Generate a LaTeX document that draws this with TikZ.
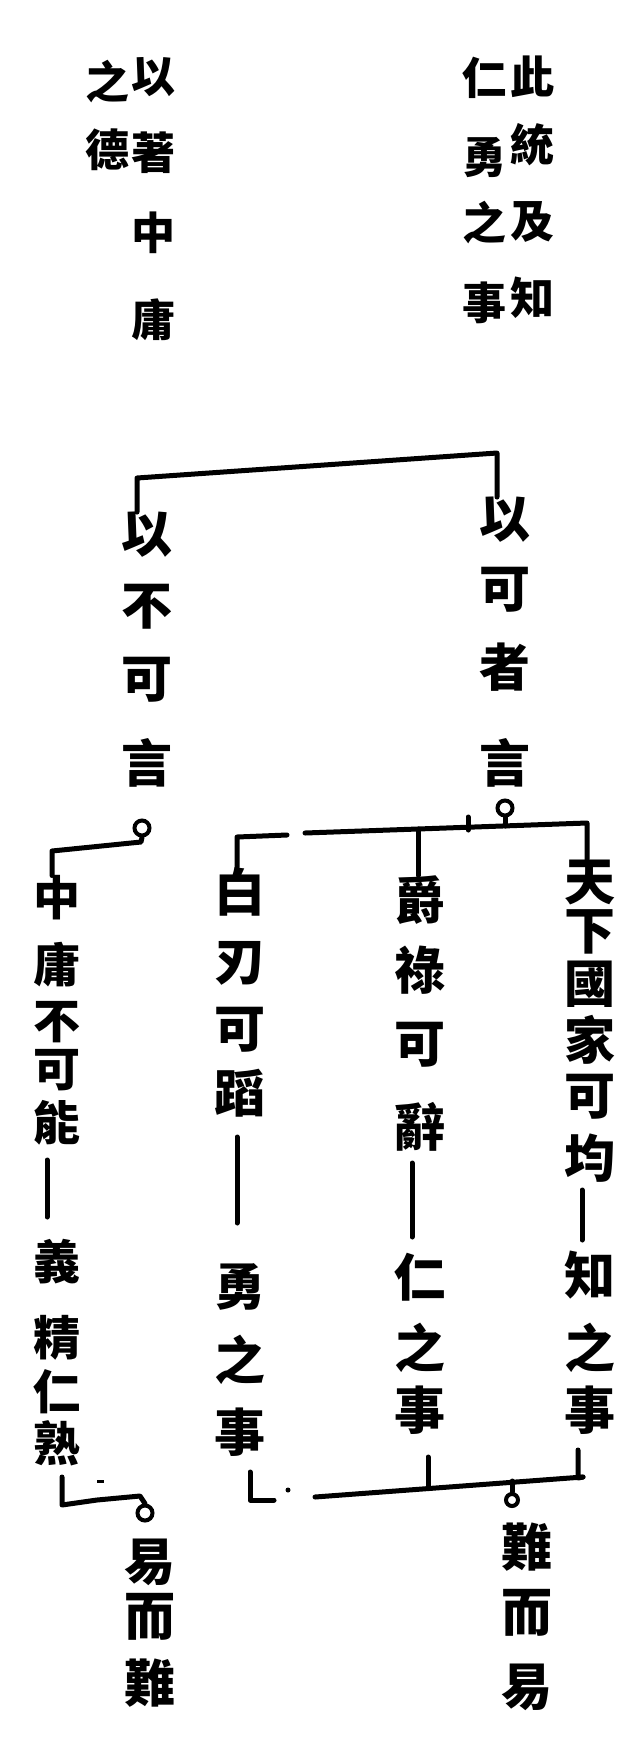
\documentclass[tikz,border=0pt]{standalone}
\usepackage{fontspec}
\newfontfamily\cjk{Noto Sans CJK TC}
\begin{document}
\begin{tikzpicture}[x=1pt,y=-1pt,
  tc/.style={font=\cjk\bfseries\fontsize{44}{44}\selectfont, inner sep=0pt},
  tr/.style={font=\cjk\bfseries\fontsize{51}{51}\selectfont, inner sep=0pt},
  tj/.style={font=\cjk\bfseries\fontsize{47}{47}\selectfont, inner sep=0pt},
  ln/.style={line width=5pt, line cap=round, line join=round},
  ring/.style={circle, draw, line width=4pt, minimum size=15pt, inner sep=0pt}]
\useasboundingbox (0,0) rectangle (636,1746);
% top texts
\foreach \n/\yy/\c in {a1/77/此, a2/145/統, a3/222/及, a4/298/知}
  \node[tc] (\n) at (532,\yy) {\c};
\foreach \n/\yy/\c in {b1/78/仁, b2/158/勇, b3/223/之, b4/303/事}
  \node[tc] (\n) at (484,\yy) {\c};
\foreach \n/\yy/\c in {c1/77/以, c2/153/著, c3/233/中, c4/320/庸}
  \node[tc] (\n) at (153,\yy) {\c};
\foreach \n/\yy/\c in {d1/82/之, d2/150/德}
  \node[tc] (\n) at (107,\yy) {\c};
% tree texts
\foreach \n/\yy/\c in {e1/535/以, e2/607/不, e3/680/可, e4/763/言}
  \node[tr] (\n) at (147,\yy) {\c};
\foreach \n/\yy/\c in {f1/520/以, f2/590/可, f3/667/者, f4/763/言}
  \node[tr] (\n) at (505,\yy) {\c};
\foreach \n/\yy/\c in {j1/898/中, j2/965/庸, j3/1022/不, j4/1070/可, j5/1123/能, j6/1262/義, j7/1338/精, j8/1392/仁, j9/1443/熟}
  \node[tj] (\n) at (57,\yy) {\c};
\foreach \n/\yy/\c in {g1/892/白, g2/963/刃, g3/1030/可, g4/1093/蹈, g5/1287/勇, g6/1360/之, g7/1432/事}
  \node[tr] (\n) at (240,\yy) {\c};
\foreach \n/\yy/\c in {h1/900/爵, h2/970/祿, h3/1045/可, h4/1127/辭, h5/1277/仁, h6/1348/之, h7/1410/事}
  \node[tr] (\n) at (420,\yy) {\c};
\foreach \n/\yy/\c in {i1/882/天, i2/932/下, i3/984/國, i4/1040/家, i5/1097/可, i6/1158/均, i7/1275/知, i8/1348/之, i9/1410/事}
  \node[tr] (\n) at (590,\yy) {\c};
\foreach \n/\yy/\c in {k1/1562/易, k2/1617/而, k3/1683/難}
  \node[tr] (\n) at (150,\yy) {\c};
\foreach \n/\yy/\c in {l1/1547/難, l2/1613/而, l3/1687/易}
  \node[tr] (\n) at (527,\yy) {\c};
% top bar
\coordinate (tbl) at (137,478);
\coordinate (tbr) at (497,453);
\draw[ln] ([xshift=-10pt]e1.north) -- (tbl) -- (tbr) -- ([xshift=-8pt]f1.north);
% left branch
\node[ring] (r1) at (142,828) {};
\coordinate (lk1) at (141,842);
\coordinate (lk2) at (52,851);
\draw[ln] (r1.south) -- (lk1) -- (lk2) -- (j1.north -| lk2);
% right branch
\node[ring] (r2) at (505,808) {};
\coordinate (bl) at (237,837);
\coordinate (blend) at (287,835);
\coordinate (bstart) at (305,833);
\coordinate (bm) at (418,829);
\coordinate (bc) at (505,826);
\coordinate (br) at (587,823);
\draw[ln] (r2.south) -- (bc);
\draw[ln] (g1.north -| bl) -- (bl) -- (blend);
\draw[ln] (bstart) -- (br) -- (i1.north -| br);
\draw[ln] (bm) -- (h1.north -| bm);
\coordinate (stubt) at (468,817);
\coordinate (stubb) at (468,830);
\draw[ln] (stubt) -- (stubb);
% column dashes
\draw[ln, shorten <=44pt, shorten >=64pt] ([xshift=-3pt]g4.center) -- ([xshift=-3pt]g5.center);
\draw[ln, shorten <=36pt, shorten >=40pt] ([xshift=-8pt]h4.center) -- ([xshift=-8pt]h5.center);
\draw[ln, shorten <=32pt, shorten >=35pt] ([xshift=-8pt]i6.center) -- ([xshift=-8pt]i7.center);
\draw[ln, shorten <=37pt, shorten >=45pt] ([xshift=-10pt]j5.center) -- ([xshift=-10pt]j6.center);
% bottom right join
\coordinate (gf1) at (250,1472);
\coordinate (gf2) at (250,1500);
\coordinate (gf3) at (274,1500);
\draw[ln] (gf1) -- (gf2) -- (gf3);
\fill (288,1490) circle (2.5);
\coordinate (ql) at (315,1497);
\coordinate (qr) at (583,1477);
\draw[ln] (ql) -- (qr);
\coordinate (hm1) at (428,1457);
\coordinate (hm2) at (428,1488);
\draw[ln] (hm1) -- (hm2);
\coordinate (im1) at (578,1450);
\coordinate (im2) at (578,1478);
\draw[ln] (im1) -- (im2) -- (qr);
\node[ring, minimum size=12pt] (r3) at (512,1500) {};
\coordinate (r3t) at (512,1481);
\draw[ln] (r3t) -- (r3.north);
% bottom left join
\coordinate (jf1) at (62,1477);
\coordinate (jf2) at (62,1505);
\coordinate (jf3) at (97,1500);
\coordinate (jf4) at (140,1496);
\node[ring] (r4) at (145,1513) {};
\draw[ln] (jf1) -- (jf2) -- (jf3) -- (jf4) -- (r4.north);
\draw[line width=3pt] (97,1481) -- (104,1481);
\end{tikzpicture}
\end{document}
